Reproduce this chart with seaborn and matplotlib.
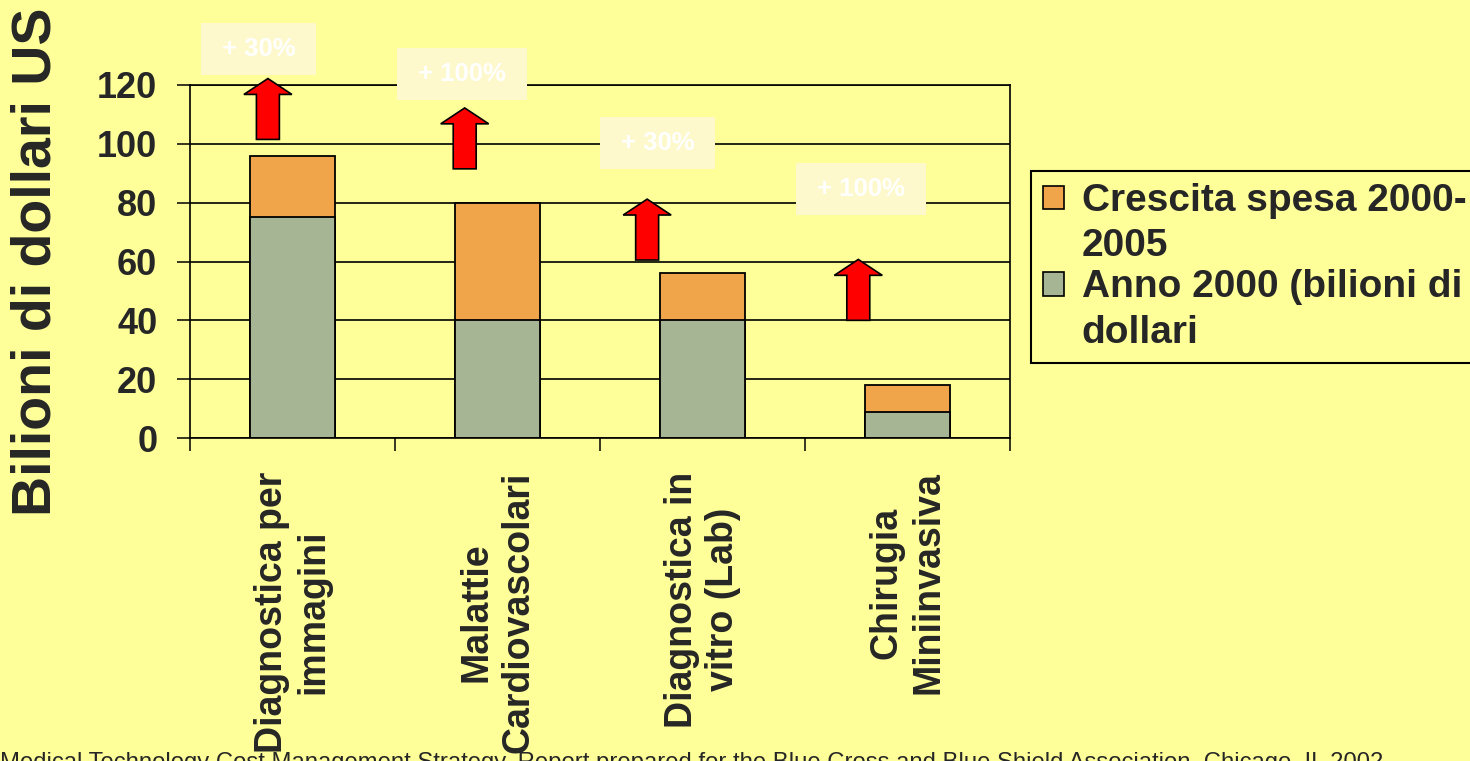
import matplotlib

matplotlib.use("Agg")
import matplotlib.pyplot as plt
import pandas as pd
import seaborn as sns
from matplotlib.legend_handler import HandlerPatch
from matplotlib.patches import FancyArrow, Patch, Rectangle

BG = "#FFFF99"
ORANGE = "#F1A54A"
GREEN = "#A6B593"

# --- data ---
categories = [
    "Diagnostica per\nimmagini",
    "Malattie\nCardiovascolari",
    "Diagnostica in\nvitro (Lab)",
    "Chirugia\nMiniinvasiva",
]
anno_2000 = [75, 40, 40, 9]
crescita = [21, 40, 16, 9]
growth_labels = ["+ 30%", "+ 100%", "+ 30%", "+ 100%"]
legend_labels = ["Crescita spesa 2000-\n2005", "Anno 2000 (bilioni di\ndollari"]
source = ("Medical Technology Cost Management Strategy. Report prepared for the "
          "Blue Cross and Blue Shield Association, Chicago, IL 2002")

# annotation placement (x offset from category centre, y in data units)
arrow_dx = [-0.12, -0.16, -0.27, -0.24]
arrow_y0 = [101.5, 91.5, 60.5, 40.0]
label_pos = [(-0.165, 132.3), (0.827, 123.7), (1.78, 100.2), (2.773, 84.6)]

df = pd.DataFrame({"categoria": categories, "base": anno_2000, "crescita": crescita})
df["totale"] = df["base"] + df["crescita"]

sns.set_style("white")
plt.rcParams["font.family"] = ["Liberation Sans", "DejaVu Sans"]
plt.rcParams["font.weight"] = "bold"

fig = plt.figure(figsize=(14.7, 7.61), dpi=100, facecolor=BG)
ax = fig.add_axes([190 / 1470, 1 - 438 / 761, 820 / 1470, 353 / 761])
ax.set_facecolor(BG)

bar_kw = dict(width=0.41, edgecolor="black", linewidth=1.3, saturation=1,
              errorbar=None, ax=ax)
sns.barplot(data=df, x="categoria", y="totale", color=ORANGE, **bar_kw)
sns.barplot(data=df, x="categoria", y="base", color=GREEN, **bar_kw)

ax.set_xlim(-0.5, 3.5)
ax.set_ylim(0, 120)
ax.set_axisbelow(True)
ax.yaxis.grid(True, color="black", linewidth=1.2)
for s in ax.spines.values():
    s.set_visible(True)
    s.set_color("black")
    s.set_linewidth(1.2)

ax.set_yticks(range(0, 121, 20))
ax.tick_params(axis="y", left=True, length=9.5, width=1.1, color="black",
               pad=14, labelsize=26)
ax.set_xticks([-0.5, 0.5, 1.5, 2.5, 3.5], labels=[""] * 5)
ax.set_xticks(range(4), labels=categories, minor=True)
ax.tick_params(axis="x", which="major", bottom=True, length=9, width=1.1,
               color="black")
ax.tick_params(axis="x", which="minor", bottom=True, length=0, pad=24,
               labelsize=27, labelrotation=90)
ax.set_xlabel("")
ax.set_ylabel("Bilioni di dollari US", fontsize=40, fontweight="bold")
ax.yaxis.set_label_coords(-0.155, 0.5)

# red growth arrows
for i, (dx, y0) in enumerate(zip(arrow_dx, arrow_y0)):
    ax.add_patch(FancyArrow(i + dx, y0, 0, 20.7, width=0.112, head_width=0.234,
                            head_length=5.4, length_includes_head=True,
                            fc="red", ec="black", lw=1.2, clip_on=False,
                            zorder=5))

# percentage labels on pale boxes
texts = []
for (x, y), lab in zip(label_pos, growth_labels):
    t = ax.text(x, y, lab, color="white", fontsize=18.5, fontweight="bold",
                ha="center", va="center", zorder=7, clip_on=False)
    texts.append(t)
fig.canvas.draw()
inv = ax.transData.inverted()
for t, (x, y) in zip(texts, label_pos):
    bb = t.get_window_extent()
    (x0, _), (x1, _) = inv.transform([(bb.x0 - 21, 0), (bb.x1 + 21, 0)])
    ax.add_patch(Rectangle((x0, y - 8.85), x1 - x0, 17.7, fc="#FEF9CC",
                           ec="none", zorder=6, clip_on=False))


def first_line_patch(legend, orig_handle, xdescent, ydescent, width, height,
                     fontsize):
    # put the square next to the first text line, as in the original
    return Rectangle((-xdescent, -ydescent + 0.68 * fontsize), width, height)


handles = [
    Patch(fc=ORANGE, ec="black", lw=1.2, label=legend_labels[0]),
    Patch(fc=GREEN, ec="black", lw=1.2, label=legend_labels[1]),
]
leg = fig.legend(handles=handles, loc="upper left",
                 bbox_to_anchor=(1031 / 1470, 1 - 171 / 761), frameon=True,
                 fancybox=False, edgecolor="black", facecolor=BG, framealpha=1,
                 fontsize=28, handlelength=0.55, handleheight=0.55,
                 handletextpad=0.45, labelspacing=0.12, borderpad=0.3,
                 borderaxespad=0,
                 handler_map={Patch: HandlerPatch(patch_func=first_line_patch)})
leg.get_frame().set_linewidth(1.5)
for t in leg.get_texts():
    t.set_linespacing(1.35)

fig.text(0.0, 1 - 752 / 761, source, fontsize=17.2, fontweight="normal",
         ha="left", va="top")

fig.savefig("out.png", dpi=100, facecolor=BG)
